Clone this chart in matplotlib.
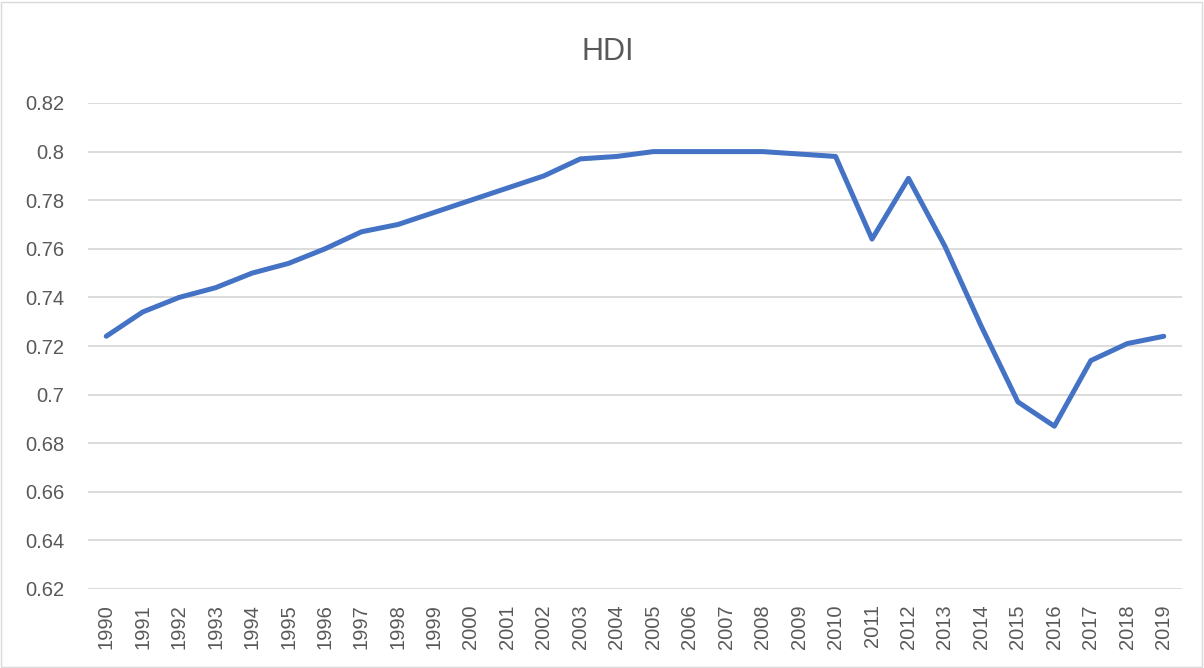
import matplotlib
matplotlib.use("Agg")
import matplotlib.pyplot as plt
from matplotlib.ticker import FuncFormatter, MultipleLocator
from matplotlib.patches import Rectangle

years = [str(y) for y in range(1990, 2020)]
hdi = [0.724, 0.734, 0.740, 0.744, 0.750, 0.754, 0.760, 0.767, 0.770, 0.775,
       0.780, 0.785, 0.790, 0.797, 0.798, 0.800, 0.800, 0.800, 0.800, 0.799,
       0.798, 0.764, 0.789, 0.761, 0.728, 0.697, 0.687, 0.714, 0.721, 0.724]

plt.rcParams['font.family'] = ['Liberation Sans', 'DejaVu Sans']

W, H = 1204, 668
fig = plt.figure(figsize=(W / 100, H / 100), dpi=100)
fig.patches.append(Rectangle((1 / W, 1 / H), 1 - 3 / W, 1 - 3 / H, transform=fig.transFigure,
                             fill=False, edgecolor='#D9D9D9', linewidth=1))

left, right, top, bottom = 88, 1182, 103, 589
ax = fig.add_axes([left / W, 1 - bottom / H, (right - left) / W, (bottom - top) / H])

x = list(range(len(years)))
ax.plot(x, hdi, color='#4472C4', linewidth=3.6, solid_joinstyle='round', solid_capstyle='round', zorder=3)

ax.set_xlim(-0.5, len(years) - 0.5)
ax.set_ylim(0.62, 0.82)
ax.yaxis.set_major_locator(MultipleLocator(0.02))
ax.yaxis.set_major_formatter(FuncFormatter(lambda v, p: f"{v:.2f}".rstrip('0').rstrip('.')))
ax.set_xticks(x)
ax.set_xticklabels(years, rotation=90)

ax.grid(axis='y', color='#D9D9D9', linewidth=1.3)
ax.set_axisbelow(True)
for s in ax.spines.values():
    s.set_visible(False)
ax.tick_params(axis='both', length=0, colors='#595959', labelsize=14.5)
ax.tick_params(axis='y', pad=17)
ax.tick_params(axis='x', pad=11)

fig.text(608 / W, 1 - 60 / H, 'HDI', ha='center', va='baseline', fontsize=22, color='#595959')

fig.savefig('out.png', dpi=100)
